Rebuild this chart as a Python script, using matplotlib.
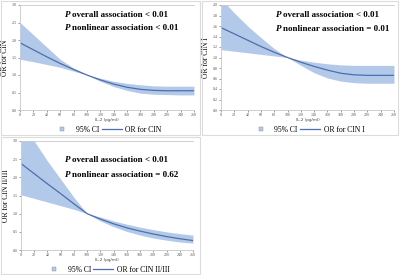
import numpy as np
import matplotlib
matplotlib.use("Agg")
import matplotlib.pyplot as plt
from matplotlib.patches import Rectangle
from matplotlib.lines import Line2D

plt.rcParams["font.family"] = ["Liberation Serif", "DejaVu Serif"]

il2 = [0, 20, 40, 60, 80, 100, 120, 140, 160, 180, 200, 220, 240, 260]

# CIN
or_cin = [1.92, 1.72, 1.52, 1.33, 1.16, 1.0, 0.86, 0.74, 0.65, 0.59, 0.56, 0.55, 0.55, 0.55]
lo_cin = [1.45, 1.38, 1.30, 1.22, 1.11, 1.0, 0.82, 0.67, 0.56, 0.48, 0.45, 0.44, 0.43, 0.43]
hi_cin = [2.50, 2.15, 1.80, 1.45, 1.20, 1.0, 0.91, 0.82, 0.76, 0.72, 0.69, 0.68, 0.68, 0.68]

# CIN I
or_cin1 = [1.57, 1.45, 1.33, 1.21, 1.10, 1.0, 0.91, 0.83, 0.76, 0.70, 0.67, 0.66, 0.66, 0.66]
lo_cin1 = [1.15, 1.12, 1.09, 1.06, 1.03, 1.0, 0.85, 0.71, 0.61, 0.55, 0.52, 0.51, 0.51, 0.51]
hi_cin1 = [2.12, 1.85, 1.60, 1.38, 1.17, 1.0, 0.95, 0.91, 0.88, 0.86, 0.85, 0.85, 0.85, 0.85]

# CIN II/III
or_cin23 = [2.38, 2.10, 1.82, 1.55, 1.27, 1.0, 0.85, 0.72, 0.61, 0.52, 0.44, 0.37, 0.31, 0.26]
lo_cin23 = [1.52, 1.42, 1.32, 1.22, 1.12, 1.0, 0.80, 0.64, 0.51, 0.41, 0.33, 0.27, 0.22, 0.19]
hi_cin23 = [3.60, 3.00, 2.45, 1.95, 1.45, 1.0, 0.91, 0.80, 0.71, 0.63, 0.56, 0.50, 0.45, 0.41]

panels = [
    # (panel box px, axes box px, data, ymax, ystep, name, p texts, text pos)
    ((1, 1, 199, 134), (20, 5, 174, 105), (or_cin, lo_cin, hi_cin), 3.0, 0.5,
     "CIN", ("< 0.01", "< 0.01"), (0.26, 0.905, 0.78)),
    ((202, 1, 196, 134), (221, 5, 173, 105), (or_cin1, lo_cin1, hi_cin1), 2.0, 0.2,
     "CIN I", ("< 0.01", "= 0.01"), (0.32, 0.905, 0.77)),
    ((1, 137, 199, 137), (21, 141, 172, 109), (or_cin23, lo_cin23, hi_cin23), 3.0, 0.5,
     "CIN II/III", ("< 0.01", "= 0.62"), (0.256, 0.826, 0.69)),
]

W, H = 400, 275
fig = plt.figure(figsize=(W / 100, H / 100), dpi=100)

fill_col = "#b3c9ea"
line_col = "#4d6ea8"
axis_col = "#c8c8c8"

for box, abox, (orv, lov, hiv), ymax, ystep, name, ptxt, tpos in panels:
    bx, by, bw, bh = box
    fig.patches.append(Rectangle((bx / W, 1 - (by + bh) / H), bw / W, bh / H,
                                 transform=fig.transFigure, fill=False,
                                 edgecolor="#dcdcdc", linewidth=0.8))
    ax_x, ax_y, ax_w, ax_h = abox
    ax = fig.add_axes([ax_x / W, 1 - (ax_y + ax_h) / H, ax_w / W, ax_h / H])
    ax.fill_between(il2, lov, hiv, color=fill_col, linewidth=0)
    ax.plot(il2, orv, color=line_col, linewidth=0.9)
    ax.set_xlim(0, 260)
    ax.set_ylim(0, ymax)
    ax.set_xticks(np.arange(0, 261, 20))
    ax.set_yticks(np.arange(0, ymax + 1e-9, ystep))
    ax.yaxis.set_major_formatter(matplotlib.ticker.FormatStrFormatter("%.1f"))
    ax.tick_params(labelsize=3, length=1.2, width=0.4, colors="#555555", pad=1)
    for s in ["left", "bottom", "top"]:
        ax.spines[s].set_color(axis_col)
        ax.spines[s].set_linewidth(0.6)
    ax.spines["right"].set_visible(False)
    ax.set_xlabel("IL-2 (pg/ml)", fontsize=3, labelpad=1, color="#444444",
                  family=["DejaVu Sans"])
    ax.set_ylabel("OR for " + name, fontsize=5.5, labelpad=2)
    tx, ty1, ty2 = tpos
    for ty, lead, val in [(ty1, "overall association ", ptxt[0]),
                          (ty2, "nonlinear association ", ptxt[1])]:
        ax.text(tx, ty, "P", transform=ax.transAxes, fontsize=6.5,
                fontweight="bold", fontstyle="italic", va="center")
        ax.annotate(lead + val, xy=(tx, ty), xycoords="axes fraction",
                    xytext=(5, 0), textcoords="offset points", fontsize=6.5,
                    fontweight="bold", va="center")
    handles = [Line2D([], [], marker="s", linestyle="none", markersize=3,
                      markerfacecolor=fill_col, markeredgecolor="#888888",
                      markeredgewidth=0.3),
               Line2D([], [], color=line_col, linewidth=0.9)]
    ax.legend(handles, ["95% CI", "OR for " + name], ncol=2, frameon=False,
              fontsize=5.5, loc="upper center", bbox_to_anchor=(0.5, -0.12),
              handlelength=2.6, columnspacing=0.3,
              handletextpad=0.5, borderaxespad=0)

fig.savefig("out.png", dpi=100)
